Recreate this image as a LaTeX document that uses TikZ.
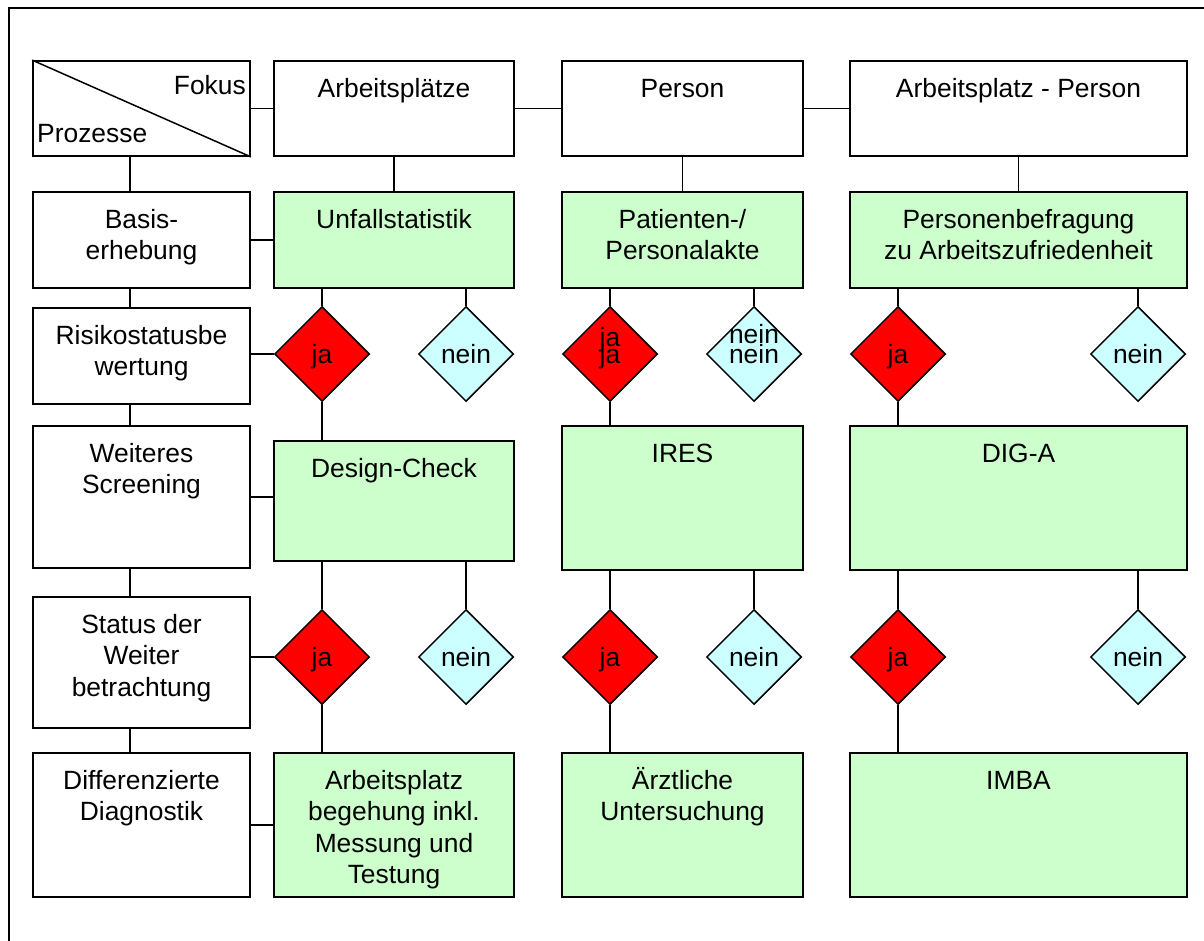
\documentclass[tikz,border=0pt]{standalone}
\usepackage{fontspec}
\setmainfont{Liberation Sans}
\usetikzlibrary{shapes.geometric}
\definecolor{boxgreen}{HTML}{CCFFCC}
\definecolor{jared}{HTML}{FF0000}
\definecolor{neincyan}{HTML}{CCFFFF}
\newcommand{\firstln}[1]{\rule{0pt}{19pt}\smash{#1}}
\begin{document}
\begin{tikzpicture}[x=1pt,y=-1pt,
  plainbox/.style={draw=black, line width=1.8pt, fill=white, rectangle, inner sep=0pt},
  greenbox/.style={plainbox, fill=boxgreen},
  dia/.style={diamond, draw=black, line width=1.5pt, inner sep=0pt, minimum width=95pt, minimum height=95pt, font=\fontsize{26.4}{31.5}\selectfont, text height=18pt, text depth=0pt},
  jadia/.style={dia, fill=jared},
  neindia/.style={dia, fill=neincyan},
  txt/.style={anchor=north, inner sep=0pt, align=center, font=\fontsize{26.4}{31.5}\selectfont},
  plaintxt/.style={inner sep=0pt, font=\fontsize{26.4}{31.5}\selectfont},
  conn/.style={line width=1.8pt}
]
\useasboundingbox (0,0) rectangle (1204,941);
% frame
\draw[line width=1.8pt] (9,941) -- (9,8) -- (1204,8);

% row 0
\node[plainbox, minimum width=217pt, minimum height=95pt] (fokus) at (141.5,108.5) {};
\node[plainbox, minimum width=240pt, minimum height=95pt] (arb) at (394,108.5) {};
\node[plainbox, minimum width=241pt, minimum height=95pt] (pers) at (682.5,108.5) {};
\node[plainbox, minimum width=337pt, minimum height=95pt] (apers) at (1018.5,108.5) {};
% row 1
\node[plainbox, minimum width=217pt, minimum height=96pt] (basis) at (141.5,240) {};
\node[greenbox, minimum width=240pt, minimum height=96pt] (unfall) at (394,240) {};
\node[greenbox, minimum width=241pt, minimum height=96pt] (akte) at (682.5,240) {};
\node[greenbox, minimum width=337pt, minimum height=96pt] (befr) at (1018.5,240) {};
% row 2
\node[plainbox, minimum width=217pt, minimum height=96pt] (risiko) at (141.5,356) {};
\node[jadia] (jaA2) at (322,354) {ja};
\node[neindia] (neinA2) at (466,354) {nein};
\node[jadia] (jaP2) at (610,354) {ja};
\node[neindia] (neinP2) at (754,354) {nein};
\node[jadia] (jaQ2) at (898,354) {ja};
\node[neindia] (neinQ2) at (1138,354) {nein};
% row 3
\node[plainbox, minimum width=217pt, minimum height=142pt] (weiter) at (141.5,497) {};
\node[greenbox, minimum width=240pt, minimum height=120pt] (design) at (394,501) {};
\node[greenbox, minimum width=241pt, minimum height=144pt] (ires) at (682.5,498) {};
\node[greenbox, minimum width=337pt, minimum height=144pt] (diga) at (1018.5,498) {};
% row 4
\node[plainbox, minimum width=217pt, minimum height=131pt] (status) at (141.5,662.5) {};
\node[jadia] (jaA4) at (322,657) {ja};
\node[neindia] (neinA4) at (466,657) {nein};
\node[jadia] (jaP4) at (610,657) {ja};
\node[neindia] (neinP4) at (754,657) {nein};
\node[jadia] (jaQ4) at (898,657) {ja};
\node[neindia] (neinQ4) at (1138,657) {nein};
% row 5
\node[plainbox, minimum width=217pt, minimum height=144pt] (diff) at (141.5,825) {};
\node[greenbox, minimum width=240pt, minimum height=144pt] (begeh) at (394,825) {};
\node[greenbox, minimum width=241pt, minimum height=144pt] (arzt) at (682.5,825) {};
\node[greenbox, minimum width=337pt, minimum height=144pt] (imba) at (1018.5,825) {};

% texts
\draw[line width=1.5pt] (fokus.north west) -- (fokus.south east);
\node[plaintxt, anchor=base east] (tfokus) at (246,95) {Fokus};
\node[plaintxt, anchor=base west] (tproz) at (37,142.5) {Prozesse};
\node[txt] (tarb) at (394,78) {\firstln{Arbeitsplätze}};
\node[txt] (tpers) at (682.5,78) {\firstln{Person}};
\node[txt] (tapers) at (1018.5,78) {\firstln{Arbeitsplatz - Person}};
\node[txt] (tbasis) at (141.5,209) {\firstln{Basis-}\\erhebung};
\node[txt] (tunfall) at (394,209) {\firstln{Unfallstatistik}};
\node[txt] (takte) at (682.5,209) {\firstln{Patienten-/}\\Personalakte};
\node[txt] (tbefr) at (1018.5,209) {\firstln{Personenbefragung}\\zu Arbeitszufriedenheit};
\node[txt] (trisiko) at (141.5,325) {\firstln{Risikostatusbe}\\wertung};
\node[plaintxt, anchor=base] (tjaP2) at (610,346) {ja};
\node[plaintxt, anchor=base] (tneinP2) at (754,343) {nein};
\node[txt] (tweiter) at (141.5,443) {\firstln{Weiteres}\\Screening};
\node[txt] (tdesign) at (394,458) {\firstln{Design-Check}};
\node[txt] (tires) at (682.5,443) {\firstln{IRES}};
\node[txt] (tdiga) at (1018.5,443) {\firstln{DIG-A}};
\node[txt] (tstatus) at (141.5,614) {\firstln{Status der}\\Weiter\\betrachtung};
\node[txt] (tdiff) at (141.5,770) {\firstln{Differenzierte}\\Diagnostik};
\node[txt] (tbegeh) at (394,770) {\firstln{Arbeitsplatz}\\begehung inkl.\\Messung und\\Testung};
\node[txt] (tarzt) at (682.5,770) {\firstln{Ärztliche}\\Untersuchung};
\node[txt] (timba) at (1018.5,770) {\firstln{IMBA}};

% connectors
\coordinate (lx) at (130,0);
\draw[conn] (fokus.east) -- (arb.west);
\draw[conn] (arb.east) -- (pers.west);
\draw[conn] (pers.east) -- (apers.west);
\draw[conn] (arb.south) -- (unfall.north);
\draw[conn] (pers.south) -- (akte.north);
\draw[conn] (apers.south) -- (befr.north);
\draw[conn] (lx |- fokus.south) -- (lx |- basis.north);
\draw[conn] (lx |- basis.south) -- (lx |- risiko.north);
\draw[conn] (lx |- risiko.south) -- (lx |- weiter.north);
\draw[conn] (lx |- weiter.south) -- (lx |- status.north);
\draw[conn] (lx |- status.south) -- (lx |- diff.north);
\draw[conn] (basis.east) -- (unfall.west);
\draw[conn] (jaA2.west) -- (jaA2.west -| risiko.east);
\draw[conn] (weiter.east) -- (weiter.east -| design.west);
\draw[conn] (jaA4.west) -- (jaA4.west -| status.east);
\draw[conn] (diff.east) -- (begeh.west);
% column A
\draw[conn] (jaA2.north) -- (jaA2.north |- unfall.south);
\draw[conn] (neinA2.north) -- (neinA2.north |- unfall.south);
\draw[conn] (jaA2.south) -- (jaA2.south |- design.north);
\draw[conn] (jaA4.north) -- (jaA4.north |- design.south);
\draw[conn] (neinA4.north) -- (neinA4.north |- design.south);
\draw[conn] (jaA4.south) -- (jaA4.south |- begeh.north);
% column P
\draw[conn] (jaP2.north) -- (jaP2.north |- akte.south);
\draw[conn] (neinP2.north) -- (neinP2.north |- akte.south);
\draw[conn] (jaP2.south) -- (jaP2.south |- ires.north);
\draw[conn] (jaP4.north) -- (jaP4.north |- ires.south);
\draw[conn] (neinP4.north) -- (neinP4.north |- ires.south);
\draw[conn] (jaP4.south) -- (jaP4.south |- arzt.north);
% column Q
\draw[conn] (jaQ2.north) -- (jaQ2.north |- befr.south);
\draw[conn] (neinQ2.north) -- (neinQ2.north |- befr.south);
\draw[conn] (jaQ2.south) -- (jaQ2.south |- diga.north);
\draw[conn] (jaQ4.north) -- (jaQ4.north |- diga.south);
\draw[conn] (neinQ4.north) -- (neinQ4.north |- diga.south);
\draw[conn] (jaQ4.south) -- (jaQ4.south |- imba.north);
\end{tikzpicture}
\end{document}
